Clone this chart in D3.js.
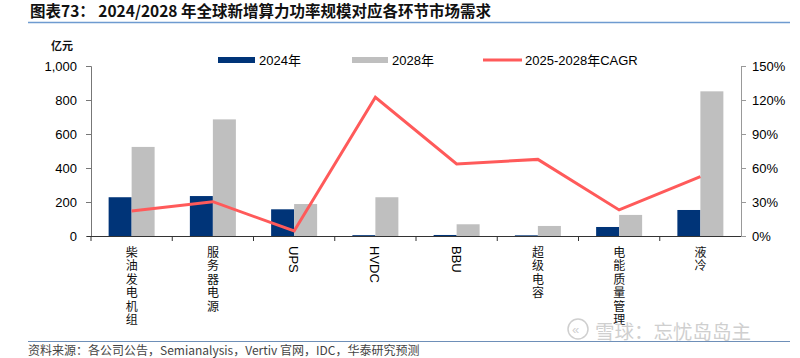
<!DOCTYPE html>
<html><head><meta charset="utf-8">
<script src="https://cdn.jsdelivr.net/npm/d3@7"></script>
<style>
html,body{margin:0;padding:0;background:#fff;}
svg{display:block;}
</style>
</head><body>
<svg id="c" width="800" height="358"></svg>
<script>
const categories = ["柴油发电机组","服务器电源","UPS","HVDC","BBU","超级电容","电能质量管理","液冷"];
const verticalLatin = [false,false,true,true,true,false,false,false];
const values2024 = [228,235,157,5,6,4,53,153];
const values2028 = [524,686,188,228,69,59,124,851];
const cagr = [22.0,30.3,4.4,122.4,63.5,67.6,23.0,52.4];
const leftTicks = [0,200,400,600,800,1000];
const rightTicks = [0,30,60,90,120,150];
const seriesNames = ["2024年","2028年","2025-2028年CAGR"];

const svg = d3.select("#c");
const font = "'Liberation Sans', Arial, 'Noto Sans CJK SC', sans-serif";
const cjk = "'Noto Sans CJK SC', sans-serif";
const navy = "#003478", gray = "#BFBFBF", red = "#FF5A5A";

const m = {l:91, r:741, t:66, b:236};
const x = d3.scaleBand().domain(categories).range([m.l, m.r]).paddingInner(0).paddingOuter(0);
const yL = d3.scaleLinear().domain([0,1000]).range([m.b, m.t]);
const yR = d3.scaleLinear().domain([0,150]).range([m.b, m.t]);
const barW = 23;

// title
svg.append("text").attr("x",30).attr("y",17)
  .attr("font-family",cjk).attr("font-size",15.5).attr("font-weight","bold").attr("fill","#111")
  .text("图表73： 2024/2028 年全球新增算力功率规模对应各环节市场需求");
svg.append("line").attr("x1",28).attr("x2",790).attr("y1",22.5).attr("y2",22.5)
  .attr("stroke","#6E9BD0").attr("stroke-width",1.5);

// unit
svg.append("text").attr("x",62).attr("y",50).attr("text-anchor","middle")
  .attr("font-family",cjk).attr("font-size",11).attr("font-weight","bold").attr("fill","#111").text("亿元");

// bars
const g = svg.append("g");
g.selectAll(".b24").data(categories).enter().append("rect")
  .attr("x",d=>x(d)+x.bandwidth()/2-barW).attr("width",barW)
  .attr("y",(d,i)=>yL(values2024[i])).attr("height",(d,i)=>yL(0)-yL(values2024[i]))
  .attr("fill",navy);
g.selectAll(".b28").data(categories).enter().append("rect")
  .attr("x",d=>x(d)+x.bandwidth()/2).attr("width",barW)
  .attr("y",(d,i)=>yL(values2028[i])).attr("height",(d,i)=>yL(0)-yL(values2028[i]))
  .attr("fill",gray);

// left axis
const la = svg.append("g").attr("transform",`translate(${m.l},0)`)
  .call(d3.axisLeft(yL).tickValues(leftTicks).tickSize(5).tickPadding(9).tickFormat(d3.format(",")));
la.select(".domain").attr("stroke","#777");
la.selectAll(".tick line").attr("stroke","#777");
la.selectAll("text").attr("font-family",font).attr("font-size",13).attr("fill","#000");

// right axis
const ra = svg.append("g").attr("transform",`translate(${m.r},0)`)
  .call(d3.axisRight(yR).tickValues(rightTicks).tickSize(5).tickPadding(6).tickFormat(d=>d+"%"));
ra.select(".domain").attr("stroke","#999");
ra.selectAll(".tick line").attr("stroke","#999");
ra.selectAll("text").attr("font-family",font).attr("font-size",13).attr("fill","#000");

// bottom axis
svg.append("line").attr("x1",87).attr("x2",m.r).attr("y1",m.b+0.5).attr("y2",m.b+0.5).attr("stroke","#333").attr("stroke-width",1.2);
const bounds = categories.map(d=>x(d));
svg.selectAll(".xt").data(bounds).enter().append("line")
  .attr("x1",d=>d).attr("x2",d=>d).attr("y1",m.b).attr("y2",m.b+5).attr("stroke","#333");

// CAGR line
const line = d3.line().x((d,i)=>x(categories[i])+x.bandwidth()/2).y(d=>yR(d));
svg.append("path").datum(cagr).attr("d",line).attr("fill","none").attr("stroke",red).attr("stroke-width",3).attr("stroke-linejoin","miter");

// x labels
categories.forEach((c,i)=>{
  const cx = x(c)+x.bandwidth()/2;
  if(verticalLatin[i]){
    svg.append("text").attr("transform",`translate(${cx-5},246) rotate(90)`)
      .attr("font-family",font).attr("font-size",13).attr("fill","#000").text(c);
  } else {
    svg.append("text").attr("x",cx).attr("y",246)
      .style("writing-mode","vertical-rl").style("letter-spacing","1.5px")
      .attr("font-family",cjk).attr("font-size",12).attr("fill","#111").text(c);
  }
});

// legend
const lg = svg.append("g");
lg.append("rect").attr("x",218).attr("y",57).attr("width",37).attr("height",6).attr("fill",navy);
lg.append("text").attr("x",259).attr("y",65).attr("font-family",font).attr("font-size",13).text(seriesNames[0]);
lg.append("rect").attr("x",352).attr("y",57).attr("width",36).attr("height",6).attr("fill",gray);
lg.append("text").attr("x",392).attr("y",65).attr("font-family",font).attr("font-size",13).text(seriesNames[1]);
lg.append("line").attr("x1",483).attr("x2",522).attr("y1",60).attr("y2",60).attr("stroke",red).attr("stroke-width",3);
lg.append("text").attr("x",525).attr("y",65).attr("font-family",font).attr("font-size",13).text(seriesNames[2]);

// watermark
svg.append("circle").attr("cx",578).attr("cy",329).attr("r",10).attr("fill","none").attr("stroke","#cfcfcf").attr("stroke-width",1.5);
svg.append("text").attr("x",572).attr("y",334).attr("font-family",font).attr("font-size",13).attr("fill","#cfcfcf").text("«");
svg.append("text").attr("x",595).attr("y",339).attr("font-family",cjk).attr("font-size",19.5).attr("fill","#cfcfcf").text("雪球：忘忧岛岛主");

// footer
svg.append("line").attr("x1",28).attr("x2",790).attr("y1",341.5).attr("y2",341.5).attr("stroke","#6E8FB8").attr("stroke-width",1);
svg.append("text").attr("x",28).attr("y",355).attr("font-family",cjk).attr("font-size",12).attr("fill","#444")
  .text("资料来源：各公司公告，Semianalysis，Vertiv 官网，IDC，华泰研究预测");
</script>
</body></html>
